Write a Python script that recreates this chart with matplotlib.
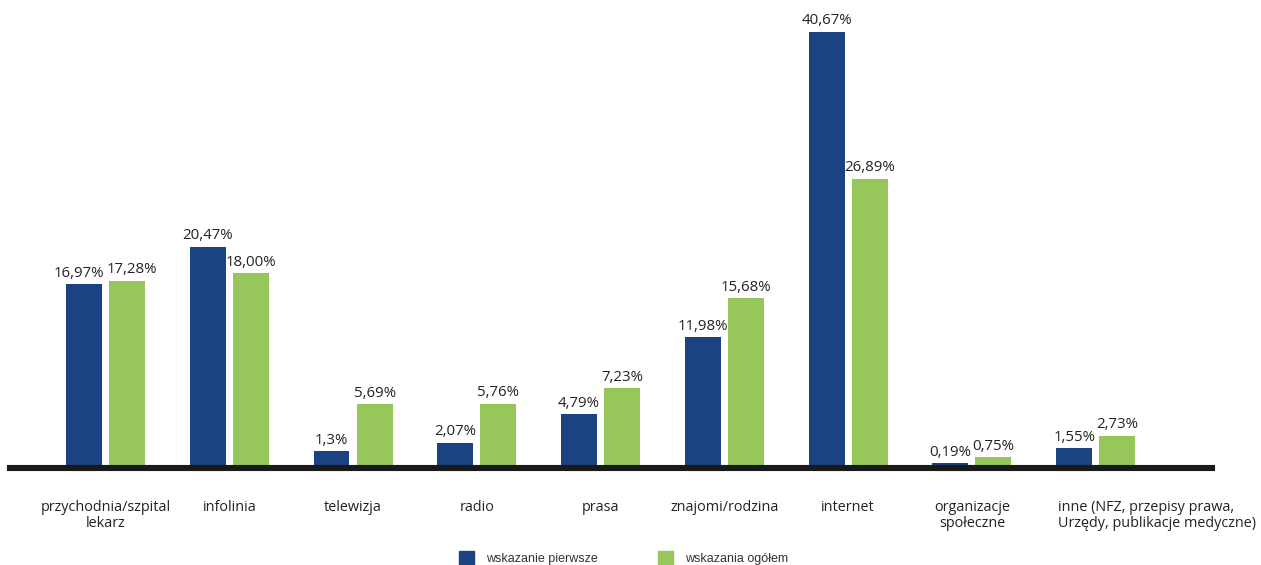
import matplotlib
matplotlib.use("Agg")
import matplotlib.pyplot as plt
from matplotlib.patches import Rectangle
from matplotlib.transforms import ScaledTranslation
import numpy as np

categories = [
    "przychodnia/szpital\nlekarz",
    "infolinia",
    "telewizja",
    "radio",
    "prasa",
    "znajomi/rodzina",
    "internet",
    "organizacje\nspołeczne",
    "inne (NFZ, przepisy prawa,\nUrzędy, publikacje medyczne)",
]
first_choice = [16.97, 20.47, 1.3, 2.07, 4.79, 11.98, 40.67, 0.19, 1.55]
first_labels = ["16,97%", "20,47%", "1,3%", "2,07%", "4,79%", "11,98%", "40,67%", "0,19%", "1,55%"]
overall = [17.28, 18.00, 5.69, 5.76, 7.23, 15.68, 26.89, 0.75, 2.73]
overall_labels = ["17,28%", "18,00%", "5,69%", "5,76%", "7,23%", "15,68%", "26,89%", "0,75%", "2,73%"]
legend_names = ["wskazanie pierwsze", "wskazania ogółem"]

BLUE = "#1b4381"
GREEN = "#97c65a"
TEXT = "#222222"
FONT = ["Open Sans", "DejaVu Sans"]

W, H = 1261, 565
fig = plt.figure(figsize=(W / 100, H / 100), dpi=100)
ax = fig.add_axes([10 / W, (H - 465) / H, (1212 - 10) / W, (465 - 7) / H])

x = np.arange(len(categories))
bw = 0.29
off = 0.174
b1 = ax.bar(x - off, first_choice, bw, color=BLUE, zorder=2)
b2 = ax.bar(x + off, overall, bw, color=GREEN, zorder=2)

# value labels; pairs of nearly equal height are pushed apart sideways
for i in range(len(categories)):
    close = abs(first_choice[i] - overall[i]) < 0.4
    for rect, txt, sign in ((b1[i], first_labels[i], -1), (b2[i], overall_labels[i], 1)):
        dx = sign * 3.5 if close else 0
        ax.annotate(txt, (rect.get_x() + rect.get_width() / 2, rect.get_height()),
                    xytext=(dx, 2.5), textcoords="offset points", ha="center", va="bottom",
                    family=FONT, size=10.8, color=TEXT)

ax.set_xlim(-0.772, 8.94)
ax.set_ylim(0, 43)
for s in ["top", "right", "left"]:
    ax.spines[s].set_visible(False)
# thick baseline sitting just under the bars
ax.spines["bottom"].set_linewidth(4.4)
ax.spines["bottom"].set_color("#1a1a1a")
ax.spines["bottom"].set_position(("outward", 2.2))
ax.spines["bottom"].set_zorder(3)
ax.set_yticks([])
ax.set_xticks(x)
ticklabels = ax.set_xticklabels(categories, family=FONT, size=10.4, color=TEXT,
                                linespacing=1.12, va="top")
ax.tick_params(axis="x", length=0, pad=23)

# last category is left-aligned under its first bar
last = ticklabels[-1]
last.set_ha("left")
last.set_multialignment("left")
last.set_transform(last.get_transform() + ScaledTranslation(-38 / 100, 0, fig.dpi_scale_trans))

# legend drawn as figure-level swatches
legend_x = [459, 658]
for lx, name, col in zip(legend_x, legend_names, [BLUE, GREEN]):
    fig.patches.append(Rectangle((lx / W, 0), 15 / W, 14 / H, transform=fig.transFigure,
                                 color=col, figure=fig))
    fig.text((lx + 27) / W, (H - 559) / H, name, family=["Liberation Sans", "DejaVu Sans"],
             size=9, color="#333333", va="center", ha="left")

fig.savefig("out.png", dpi=100)
